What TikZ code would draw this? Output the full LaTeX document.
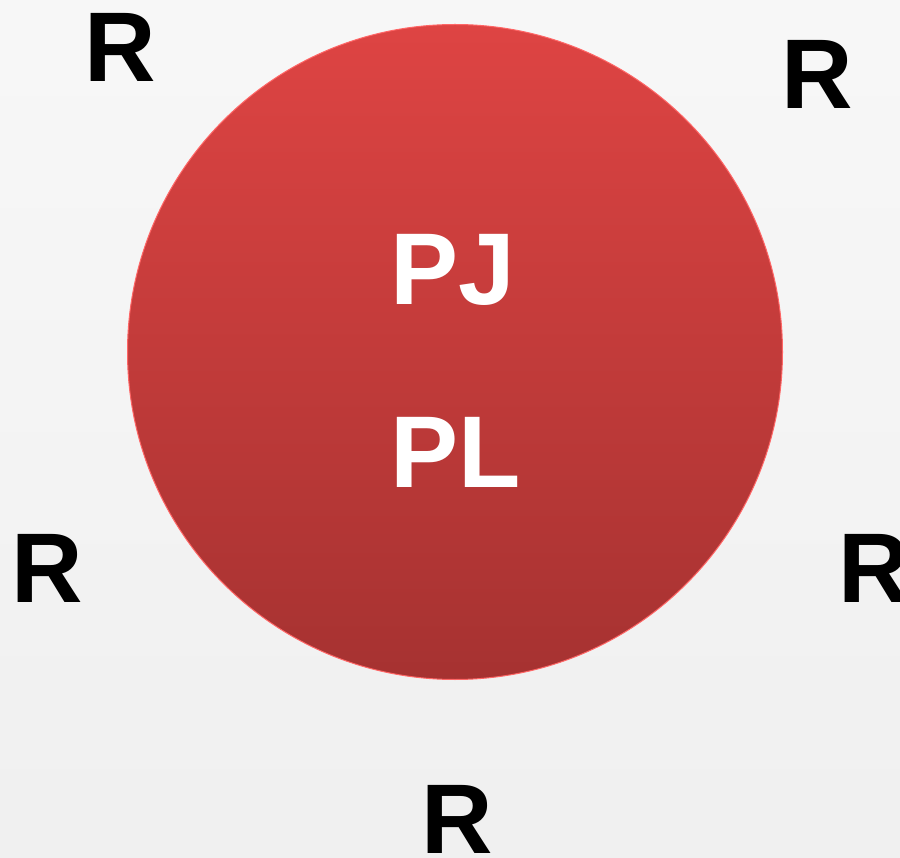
\documentclass[tikz,border=0pt]{standalone}
\usepackage{fontspec}
\setmainfont{Liberation Sans}
\begin{document}
\begin{tikzpicture}[x=1pt, y=-1pt,
  letter/.style={inner sep=0pt, font=\fontsize{99}{99}\selectfont\bfseries},
  rlabel/.style={letter, text=black},
  inlabel/.style={letter, text=white, font=\fontsize{102}{102}\selectfont\bfseries}]
\shade [top color=gray!6, bottom color=gray!12] (0,0) rectangle (900,858);
\useasboundingbox (0,0) rectangle (900,858);
\node [circle, draw=red!60!white, line width=1pt, minimum size=655pt,
  top color={rgb,255:red,222;green,68;blue,67}, bottom color={rgb,255:red,166;green,50;blue,49}] (disc) at (455,352) {};
\node [inlabel] (pj) at (453,270) {PJ};
\node [inlabel] (pl) at (456,452) {PL};
\node [rlabel] (r1) at (120,47) {R};
\node [rlabel] (r2) at (817,74) {R};
\node [rlabel] (r3) at (47,568) {R};
\node [rlabel] (r4) at (874,568) {R};
\node [rlabel] (r5) at (457,819) {R};
\end{tikzpicture}
\end{document}
